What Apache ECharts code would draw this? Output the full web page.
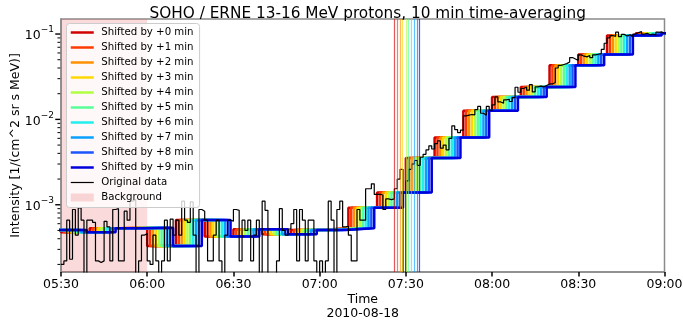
<!DOCTYPE html>
<html>
<head>
<meta charset="utf-8">
<script src="https://cdn.jsdelivr.net/npm/echarts@6/dist/echarts.min.js"></script>
<style>
  html, body { margin: 0; padding: 0; background: #ffffff; }
  #chart { width: 683px; height: 327px; }
</style>
</head>
<body>
<div id="chart"></div>
<script>
// ---- text ----
const titleText = 'SOHO / ERNE 13-16 MeV protons, 10 min time-averaging';
const xAxisTitle = 'Time\n2010-08-18';
const yAxisTitle = 'Intensity [1/(cm^2 sr s MeV)]';
const xTickLabels = ['05:30', '06:00', '06:30', '07:00', '07:30', '08:00', '08:30', '09:00'];

// ---- axis ranges ----
const viewStart = '05:30';
const viewEnd = '09:00';
const yMin = 1.63e-4;
const yMax = 0.15;
const yMajorTicks = [1e-3, 1e-2, 1e-1];
const yMinorTicks = [
  2e-4, 3e-4, 4e-4, 5e-4, 6e-4, 7e-4, 8e-4, 9e-4,
  2e-3, 3e-3, 4e-3, 5e-3, 6e-3, 7e-3, 8e-3, 9e-3,
  2e-2, 3e-2, 4e-2, 5e-2, 6e-2, 7e-2, 8e-2, 9e-2
];

// ---- 1-minute intensities, starting 05:30 (0 = no counts) ----
const originalStart = '05:30';
const originalData = [
  2.0e-4, 2.2e-4, 6.6e-4, 2.3e-4, 8.8e-4, 4.4e-4, 9.2e-4, 6.6e-4, 0, 6.6e-4,
  6.6e-4, 6.2e-4, 2.2e-4, 2.1e-4, 2.2e-4, 6.4e-4, 5.5e-4, 2.2e-4, 8.8e-4, 9.0e-4,
  2.2e-4, 2.2e-4, 8.4e-4, 6.6e-4, 1.1e-3, 1.15e-3, 0, 2.2e-4, 4.4e-4, 4.6e-4,
  2.2e-4, 2.0e-4, 4.4e-4, 2.2e-4, 0, 2.2e-4, 6.6e-4, 2.2e-4, 6.8e-4, 4.4e-4,
  6.6e-4, 4.4e-4, 1.1e-3, 6.6e-4, 6.2e-4, 1.08e-3, 4.4e-4, 0, 8.8e-4, 8.4e-4,
  6.6e-4, 2.2e-4, 2.2e-4, 4.4e-4, 6.6e-4, 2.2e-4, 0, 4.4e-4, 6.6e-4, 6.4e-4,
  8.8e-4, 8.6e-4, 2.2e-4, 6.6e-4, 5.0e-4, 6.6e-4, 2.2e-4, 4.4e-4, 6.6e-4, 0,
  1.1e-3, 8.6e-4, 0, 0, 0, 2.2e-4, 9.0e-4, 5.0e-4, 4.4e-4, 5.2e-4,
  6.0e-4, 8.8e-4, 2.2e-4, 8.8e-4, 6.6e-4, 2.2e-4, 6.6e-4, 6.6e-4, 2.2e-4, 0,
  2.2e-4, 0, 2.2e-4, 1.1e-3, 6.6e-4, 0, 8.8e-4, 1.1e-3, 5.5e-4, 5.6e-4,
  4.4e-4, 2.2e-4, 2.2e-4, 8.8e-4, 6.6e-4, 6.6e-4, 1.54e-3, 1.54e-3, 1.76e-3, 1.32e-3,
  1.32e-3, 1.3e-3, 8.8e-4, 1.17e-3, 1.15e-3, 1.17e-3, 1.54e-3, 2.0e-3, 2.6e-3, 0,
  1.9e-3, 2.6e-3, 3.0e-3, 3.3e-3, 2.9e-3, 3.6e-3, 3.9e-3, 4.4e-3, 4.9e-3, 4.5e-3,
  5.2e-3, 5.6e-3, 4.6e-3, 5.0e-3, 4.4e-3, 6.0e-3, 8.4e-3, 7.6e-3, 7.0e-3, 7.5e-3,
  1.1e-2, 1.12e-2, 1.14e-2, 1.13e-2, 1.3e-2, 1.42e-2, 1.18e-2, 1.12e-2, 1.42e-2, 1.28e-2,
  1.48e-2, 1.84e-2, 1.6e-2, 1.55e-2, 1.69e-2, 1.72e-2, 1.62e-2, 1.8e-2, 2.38e-2, 2.08e-2,
  2.3e-2, 2.4e-2, 2.2e-2, 2.55e-2, 2.1e-2, 2.4e-2, 2.45e-2, 2.4e-2, 2.5e-2, 2.6e-2,
  2.6e-2, 2.7e-2, 4.0e-2, 4.3e-2, 4.4e-2, 4.5e-2, 4.7e-2, 5.3e-2, 5.1e-2, 4.9e-2,
  5.7e-2, 5.5e-2, 5.4e-2, 5.6e-2, 5.3e-2, 5.7e-2, 5.8e-2, 5.9e-2, 6.6e-2, 7.8e-2,
  9.0e-2, 9.6e-2, 9.4e-2, 1.05e-1, 9.3e-2, 9.9e-2, 9.5e-2, 9.8e-2, 9.3e-2, 1.0e-1,
  1.04e-1, 1.07e-1, 1.0e-1, 1.02e-1, 9.8e-2, 1.0e-1, 9.7e-2, 1.05e-1, 1.06e-1, 1.01e-1
];

// ---- 10-minute averages, first bin starting 05:20 ----
const averagedStart = '05:20';
const averagedBinMinutes = 10;
const averaged10min = [
  5.05e-4, 4.75e-4, 5.29e-4, 5.38e-4, 3.28e-4, 6.62e-4, 4.24e-4, 5.15e-4,
  4.50e-4, 5.05e-4, 5.29e-4, 9.22e-4, 1.39e-3, 3.53e-3, 6.13e-3, 1.26e-2,
  1.83e-2, 2.40e-2, 4.31e-2, 5.77e-2, 9.58e-2, 1.02e-1
];

// ---- time shifts, their colours and the onset found for each ----
const shiftMinutes = [0, 1, 2, 3, 4, 5, 6, 7, 8, 9];
const shiftColors = ['#d00000', '#ff3a00', '#ff9000', '#ffd800', '#b0ff40',
                     '#58ff98', '#22eeee', '#0aa0ff', '#1a55ff', '#0000dc'];
const onsetTimes = ['07:26:00', '07:27:06', '07:27:54', '07:28:42', '07:30:12',
                    '07:30:48', '07:31:54', '07:32:48', '07:33:54', '07:34:48'];

// ---- background interval ----
const backgroundStart = '05:30';
const backgroundEnd = '06:00';

// ---- helpers ----
const FONT = 'DejaVu Sans';
const LOG_FLOOR = 1e-7;           // zero counts sit far below the axis on a log scale
const BG_COLOR = 'rgba(232, 70, 70, 0.2)';

function toMinutes(s) {
  const p = s.split(':').map(Number);
  return p[0] * 60 + p[1] + (p.length > 2 ? p[2] / 60 : 0);
}

const xMin = toMinutes(viewStart);
const xMax = toMinutes(viewEnd);

// step line for the raw data (value holds until the next sample)
const t0 = toMinutes(originalStart);
const originalPoints = originalData.map((v, i) => [t0 + i, v > 0 ? v : LOG_FLOOR]);
originalPoints.push([t0 + originalData.length, originalPoints[originalPoints.length - 1][1]]);

function shiftedPoints(shift) {
  const b0 = toMinutes(averagedStart) + shift;
  const pts = averaged10min.map((v, j) => [b0 + j * averagedBinMinutes, v]);
  pts.push([b0 + averaged10min.length * averagedBinMinutes, averaged10min[averaged10min.length - 1]]);
  return pts;
}

const shiftNames = shiftMinutes.map(k => 'Shifted by +' + k + ' min');

const series = [];

series.push({
  name: 'Background',
  type: 'line',
  data: [],
  color: BG_COLOR,
  z: 1,
  markArea: {
    silent: true,
    itemStyle: { color: BG_COLOR },
    data: [[{ xAxis: toMinutes(backgroundStart) }, { xAxis: toMinutes(backgroundEnd) }]]
  }
});

shiftMinutes.forEach((k, idx) => {
  series.push({
    name: shiftNames[idx],
    type: 'line',
    step: 'end',
    symbol: 'none',
    clip: true,
    data: shiftedPoints(k),
    color: shiftColors[idx],
    lineStyle: { width: 2.5, color: shiftColors[idx] },
    z: 2,
    markLine: {
      silent: true,
      symbol: ['none', 'none'],
      label: { show: false },
      lineStyle: { color: shiftColors[idx], width: 1.2, type: 'solid', opacity: 0.65 },
      data: [{ xAxis: toMinutes(onsetTimes[idx]) }]
    }
  });
});

series.push({
  name: 'Original data',
  type: 'line',
  step: 'end',
  symbol: 'none',
  clip: true,
  data: originalPoints,
  color: '#000000',
  lineStyle: { width: 1.2, color: '#000000' },
  z: 3
});

// log-axis ticks at 1..9 x 10^n, placed through the axis scale
const tickData = yMajorTicks.map(v => [xMin, v, 1]).concat(yMinorTicks.map(v => [xMin, v, 0]));
series.push({
  name: 'yTicks',
  type: 'custom',
  silent: true,
  clip: false,
  z: 5,
  data: tickData,
  renderItem: function (params, api) {
    const p = api.coord([api.value(0), api.value(1)]);
    const major = api.value(2) === 1;
    const len = major ? 5 : 2.8;
    return {
      type: 'line',
      shape: { x1: p[0] - len - 0.75, y1: p[1], x2: p[0] - 0.75, y2: p[1] },
      style: { stroke: '#000000', lineWidth: major ? 1.4 : 1 }
    };
  }
});

const chart = echarts.init(document.getElementById('chart'), null, { renderer: 'canvas' });

chart.setOption({
  animation: false,
  backgroundColor: '#ffffff',
  title: {
    text: titleText,
    left: 362.7,
    top: 2,
    textAlign: 'center',
    textStyle: { fontFamily: FONT, fontSize: 15.3, fontWeight: 'normal', color: '#000000' }
  },
  grid: {
    left: 61, right: 18.5, top: 19, bottom: 55,
    containLabel: false,
    outerBoundsMode: 'none',
    show: true, borderColor: '#8a8a8a', borderWidth: 1.5, backgroundColor: 'transparent'
  },
  legend: {
    orient: 'vertical',
    left: 66.5,
    top: 23.5,
    itemWidth: 23,
    itemHeight: 8,
    itemGap: 3,
    padding: [3, 6, 4, 3],
    backgroundColor: 'rgba(255,255,255,0.8)',
    borderColor: '#cccccc',
    borderWidth: 1,
    borderRadius: 3,
    selectedMode: false,
    textStyle: { fontFamily: FONT, fontSize: 10.2, color: '#000000', lineHeight: 12, padding: [0, 0, 0, 2.5] },
    itemStyle: { opacity: 0 },
    lineStyle: { width: 2.5 },
    data: shiftNames.concat([
      { name: 'Original data', lineStyle: { width: 1.2 } },
      { name: 'Background', icon: 'rect', itemStyle: { opacity: 1, borderWidth: 0 } }
    ])
  },
  xAxis: {
    type: 'value',
    min: xMin,
    max: xMax,
    interval: 30,
    splitLine: { show: false },
    axisLine: { lineStyle: { color: '#8a8a8a', width: 1.5 } },
    axisTick: { length: 4.5, lineStyle: { color: '#000000', width: 1.5 } },
    axisLabel: {
      margin: 6,
      fontFamily: FONT,
      fontSize: 12.5,
      color: '#000000',
      formatter: function (value, index) { return xTickLabels[index]; }
    },
    name: xAxisTitle,
    nameLocation: 'middle',
    nameGap: 20,
    nameMoveOverlap: false,
    nameTextStyle: { fontFamily: FONT, fontSize: 12.5, lineHeight: 14.7, color: '#000000' }
  },
  yAxis: {
    type: 'log',
    logBase: 10,
    min: yMin,
    max: yMax,
    splitLine: { show: false },
    minorTick: { show: false },
    axisTick: { show: false },
    axisLine: { show: true, lineStyle: { color: '#8a8a8a', width: 1.5 } },
    axisLabel: {
      margin: 7,
      formatter: function (value) {
        const e = Math.log10(value);
        const r = Math.round(e);
        if (Math.abs(e - r) > 1e-6) return '';
        return '{b|10}{s|' + (r < 0 ? '\u2212' : '') + Math.abs(r) + '}';
      },
      rich: {
        b: { fontFamily: FONT, fontSize: 12.5, color: '#000000', lineHeight: 17, verticalAlign: 'bottom' },
        s: { fontFamily: FONT, fontSize: 9, color: '#000000', lineHeight: 9, verticalAlign: 'top' }
      }
    },
    name: yAxisTitle,
    nameLocation: 'middle',
    nameGap: 39,
    nameMoveOverlap: false,
    nameTextStyle: { fontFamily: FONT, fontSize: 12.5, color: '#000000' }
  },
  series: series
});
</script>
</body>
</html>
